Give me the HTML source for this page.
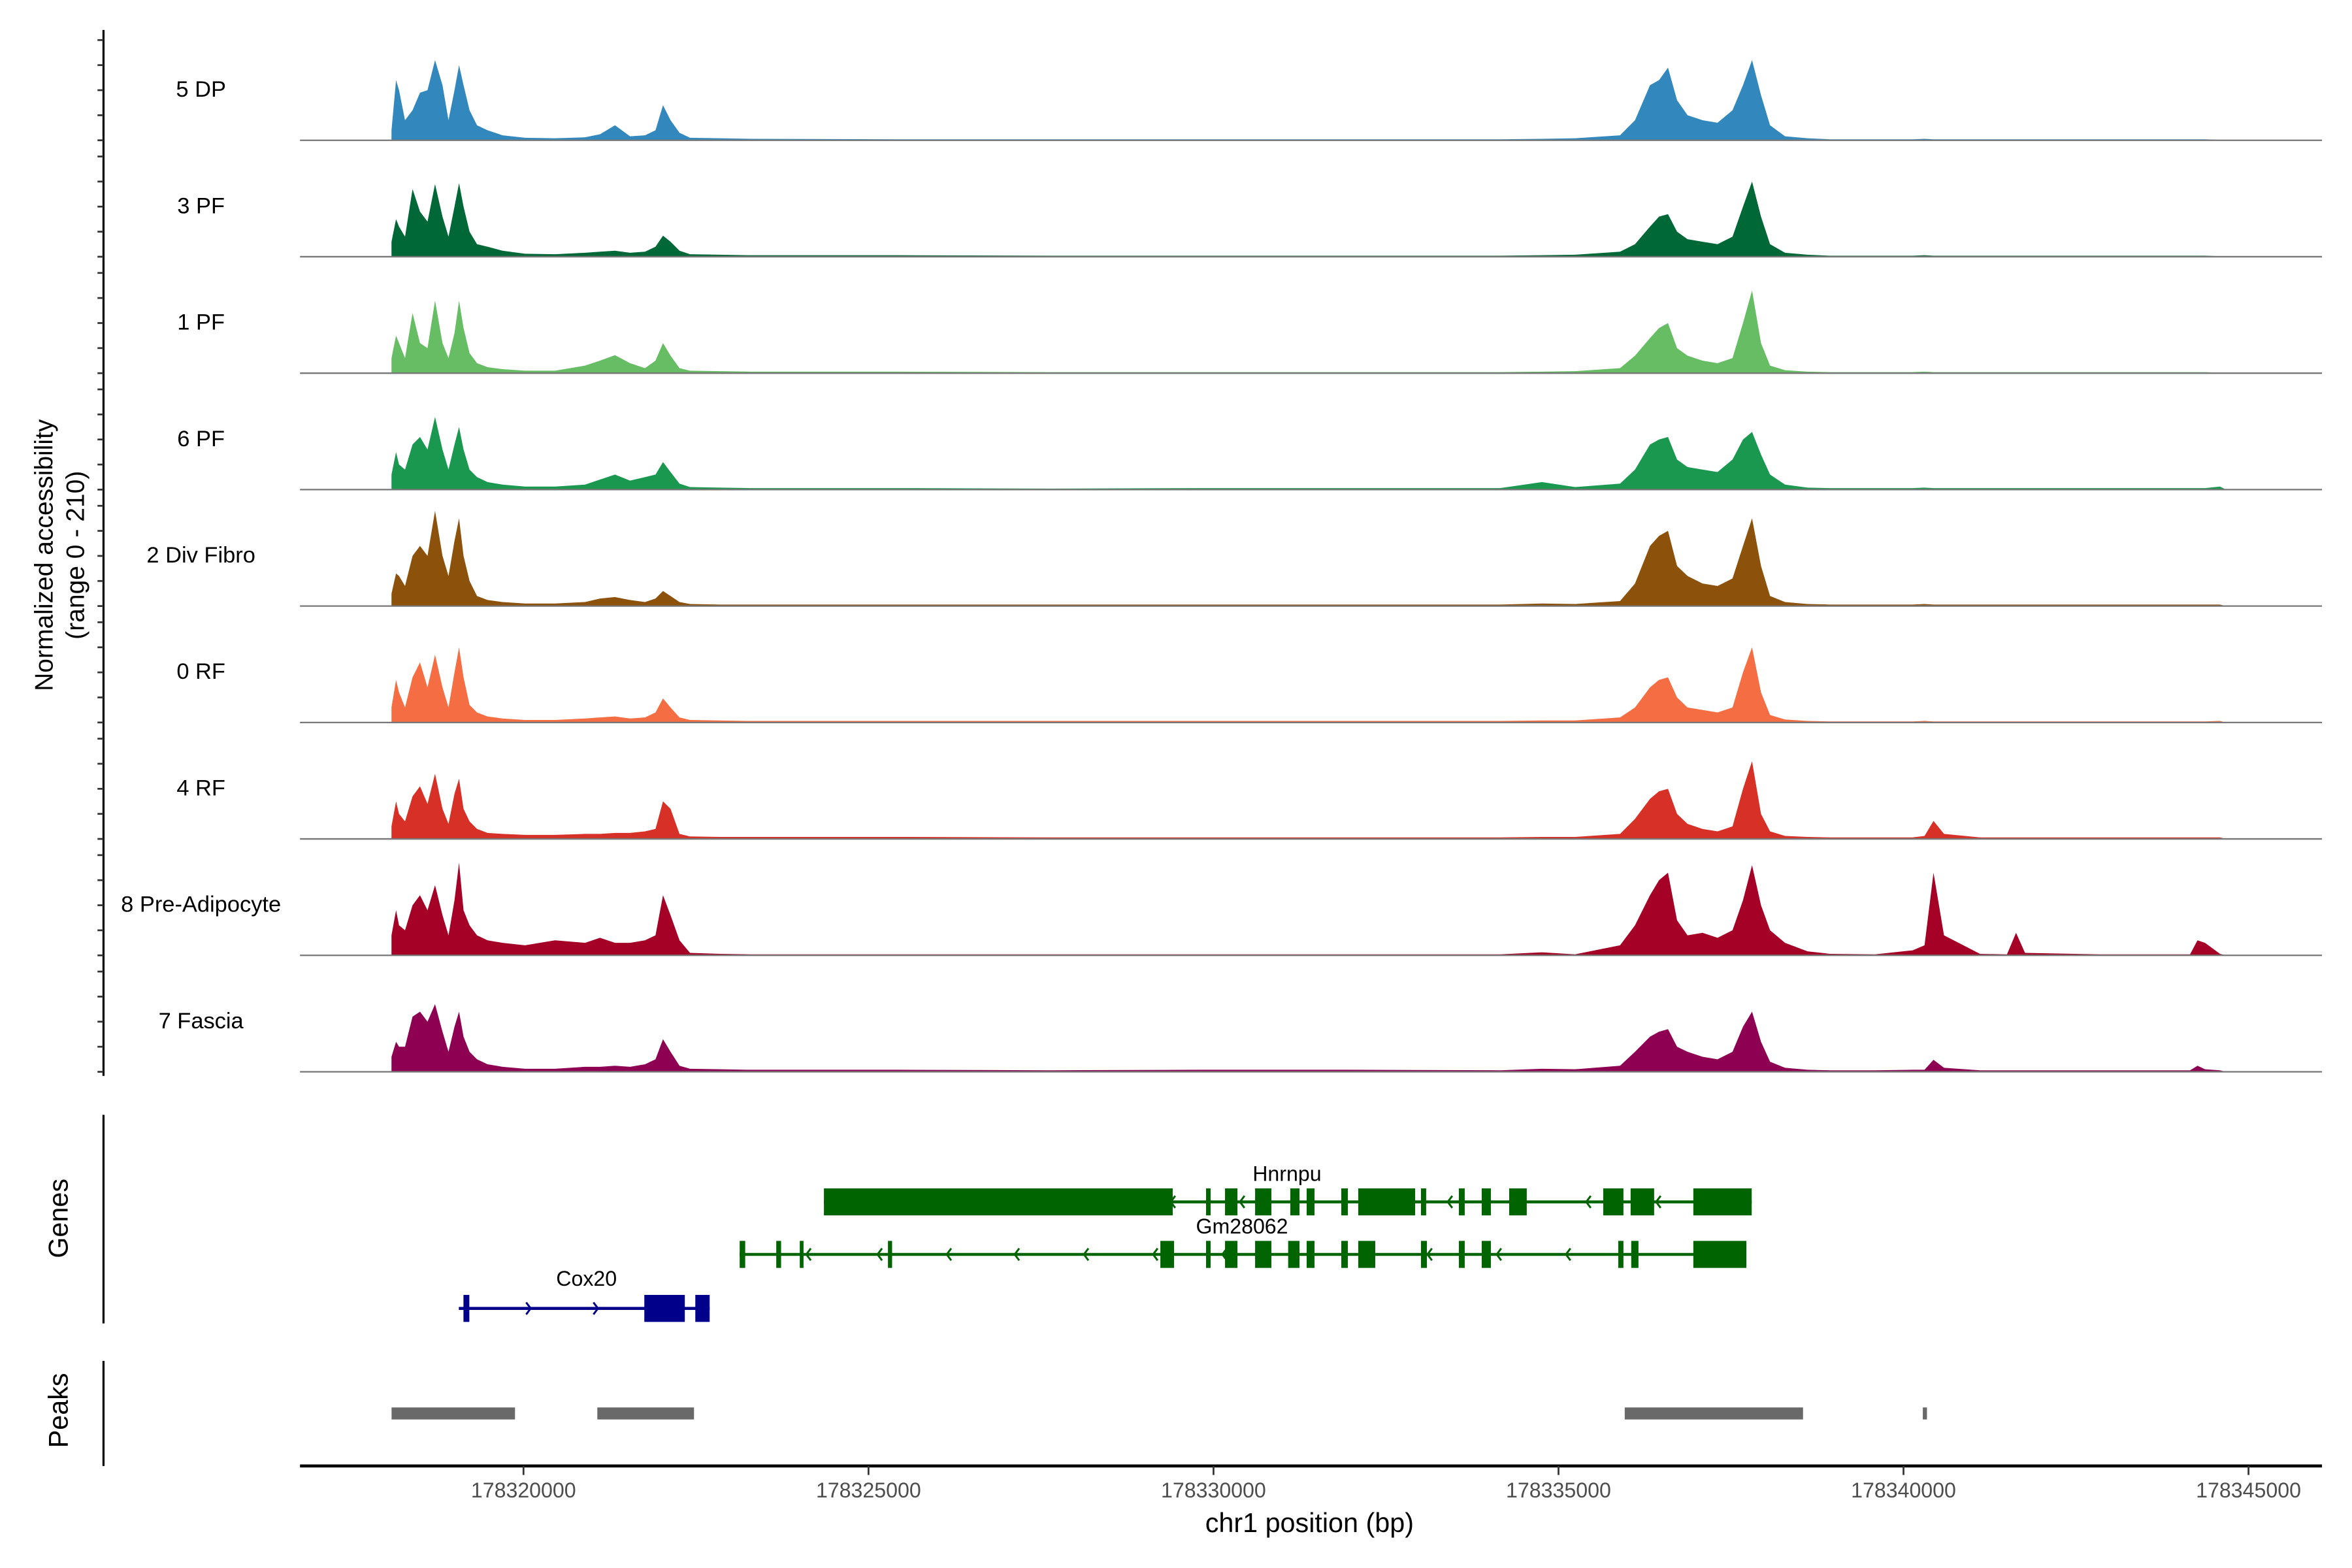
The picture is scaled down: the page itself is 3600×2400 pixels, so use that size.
<!DOCTYPE html>
<html><head><meta charset="utf-8"><style>
html,body{margin:0;padding:0;background:#fff;}
svg{display:block;font-family:"Liberation Sans",sans-serif;}
</style></head><body>
<svg id="chart" width="3600" height="2400" viewBox="0 0 1568 1045" preserveAspectRatio="none" xmlns="http://www.w3.org/2000/svg"></svg>
<script>
const positions=[178318087,178318153,178318196,178318283,178318392,178318500,178318609,178318718,178318826,178318913,
178319000,178319066,178319131,178319218,178319326,178319479,178319696,178320022,178320457,178320892,
178321109,178321326,178321544,178321761,178321913,178322022,178322131,178322261,178322413,178322848,
178323283,178325457,178327631,178329805,178331979,178334153,178334761,178335240,178335892,178336109,
178336326,178336457,178336587,178336718,178336870,178337087,178337305,178337522,178337674,178337805,
178337935,178338066,178338283,178338609,178338935,178339587,178340131,178340305,178340435,178340587,
178341109,178341500,178341631,178341761,178342848,178344153,178344261,178344370,178344587,178344674];
const trackNames=["5 DP","3 PF","1 PF","6 PF","2 Div Fibro","0 RF","4 RF","8 Pre-Adipocyte","7 Fascia"];
const trackColors=["#3288bd","#006837","#66bd63","#1a9850","#8c510a","#f46d43","#d73027","#a50026","#8e0152"];
const vDP5=[20,120,100,40,60,95,100,160,110,40,100,150,110,60,30,20,10,5,4,6,12,30,8,10,20,70,40,15,5,4,3,2,2,2,2,2,3,4,10,40,110,120,145,80,50,40,35,60,110,160,90,30,8,4,2,2,2,3,2,2,2,2,2,2,2,2,2,2,1,0];
const vPF3=[30,75,60,40,135,90,70,145,80,40,100,147,100,50,25,20,12,6,5,8,10,12,8,10,20,42,30,12,5,4,3,3,2,2,2,2,3,4,10,25,60,80,85,50,35,30,25,40,100,150,80,25,8,4,2,2,2,3,2,2,2,2,2,2,2,2,2,2,1,0];
const vPF1=[30,75,60,30,120,60,50,145,60,30,80,145,90,40,20,12,8,5,5,15,25,36,20,10,25,60,35,10,5,4,3,3,2,2,2,2,3,4,10,35,70,90,100,50,35,25,20,30,100,165,60,15,6,3,2,2,2,3,2,2,2,2,2,2,2,2,2,2,1,0];
const vPF6=[30,75,50,40,90,105,80,145,80,40,90,125,80,40,25,15,10,6,6,10,20,30,18,25,30,55,35,12,5,4,3,3,2,3,3,3,15,5,12,40,90,100,105,60,45,40,35,60,100,115,70,30,10,4,3,3,3,4,3,3,3,3,3,3,3,3,3,3,6,0];
const vDiv2=[25,65,60,40,100,120,100,190,100,60,130,175,100,50,20,12,8,5,5,8,15,18,12,8,15,30,20,8,4,3,3,3,3,3,3,3,5,4,10,45,120,140,150,80,60,45,40,55,120,175,80,20,8,4,3,3,3,4,3,3,3,3,3,3,3,3,3,3,3,0];
const vRF0=[30,85,60,30,90,120,70,135,70,30,100,150,90,35,20,12,8,5,5,8,10,12,8,10,20,48,30,10,5,4,3,3,3,3,3,3,4,4,10,30,70,85,90,50,30,25,20,30,100,150,60,15,6,3,2,2,2,3,2,2,2,2,2,2,2,2,2,2,3,0];
const vRF4=[25,75,50,35,85,105,70,130,60,30,90,120,60,35,20,12,10,8,8,10,10,12,12,15,20,75,60,10,5,4,4,4,3,3,3,3,4,4,10,40,80,95,100,50,30,20,15,25,100,155,50,15,6,4,3,3,3,6,36,10,3,3,3,3,3,3,3,3,3,0];
const vPre8=[40,90,60,50,100,120,90,140,80,40,110,185,90,60,40,30,25,20,30,25,35,25,25,30,40,120,80,30,5,3,2,2,2,2,2,2,6,2,20,60,120,150,165,70,40,45,35,50,110,180,100,50,25,8,3,2,10,20,165,40,3,2,45,5,2,2,30,25,3,0];
const vFas7=[30,60,50,50,110,120,100,135,80,40,90,120,70,40,25,15,10,6,6,10,10,12,10,15,25,65,40,12,6,5,4,4,3,4,4,3,6,5,12,40,70,80,85,50,40,30,25,40,90,120,60,20,8,4,3,3,4,4,24,8,3,3,3,3,3,3,12,5,3,0];
const trackValues=[vDP5,vPF3,vPF1,vPF6,vDiv2,vRF0,vRF4,vPre8,vFas7];
const xTicks=[178320000,178325000,178330000,178335000,178340000,178345000];
const peaksStart=[178318088,178321070,178335960,178340280];
const peaksEnd=[178319877,178322471,178338544,178340340];
const hnrnpuExonStart=[178324354,178329892,178330167,178330603,178331113,178331350,178331852,178332098,178333007,178333556,178333887,178334285,178335648,178336045,178336954];
const hnrnpuExonEnd=[178329409,178329958,178330347,178330839,178331246,178331464,178331947,178332922,178333082,178333641,178334020,178334540,178335941,178336386,178337800];
const hnrnpuArrows=[178329380,178330384,178333395,178335402,178336415];
const gmExonStart=[178323133,178323663,178324004,178325282,178329230,178329892,178330167,178330603,178331082,178331350,178331852,178332098,178333007,178333556,178333887,178335866,178336054,178336954];
const gmExonEnd=[178323213,178323733,178324054,178325342,178329428,178329958,178330347,178330839,178331246,178331464,178331947,178332344,178333093,178333641,178334020,178335941,178336159,178337723];
const gmArrows=[178324099,178325131,178326134,178327119,178328122,178329125,178330129,178333101,178334105,178335108];
const coxExonStart=[178319130,178321751,178322490];
const coxExonEnd=[178319215,178322338,178322698];
const coxArrows=[178320104,178321079];

const NS="http://www.w3.org/2000/svg";
const svg=document.getElementById('chart');
function mk(tag,attrs,parent){const e=document.createElementNS(NS,tag);for(const k in attrs)e.setAttribute(k,attrs[k]);(parent||svg).appendChild(e);return e;}
function xs(bp){return 349+(bp-178320000)*0.046;}
const trackH=77.6, firstBase=93.5, yPer=0.334;
function ys(v,base){return base-v*yPer;}

let ax=mk('line',{x1:69,y1:20,x2:69,y2:717,stroke:'#000','stroke-width':1.4});


for(let t=0;t<9;t++){const b=firstBase+t*trackH;
 for(let k=0;k<5;k++){const yy=ys(k*50,b);
  let tk=mk('line',{x1:65,y1:yy,x2:69,y2:yy,stroke:'#333','stroke-width':1.2});
  
  }
}
let yl=mk('text',{x:0,y:0,'font-size':17,'text-anchor':'middle',transform:'translate(35,370) rotate(-90)'});


yl.textContent='Normalized accessibility';
let yl2=mk('text',{x:0,y:0,'font-size':17,'text-anchor':'middle',transform:'translate(56,370) rotate(-90)'});


yl2.textContent='(range 0 - 210)';

for(let t=0;t<trackNames.length;t++){
 const b=firstBase+t*trackH, vals=trackValues[t];
 let d='M'+xs(positions[0])+','+b;
 for(let i=0;i<positions.length;i++){d+=' L'+xs(positions[i]).toFixed(2)+','+ys(vals[i],b).toFixed(2);}
 d+=' L'+xs(positions[positions.length-1])+','+b+' Z';
 let p=mk('path',{d:d,fill:trackColors[t]});
 
 
 let bl=mk('line',{x1:200,y1:b,x2:1548,y2:b,stroke:'#777','stroke-width':1});
 
 
 let lb=mk('text',{x:134,y:b-29,'font-size':15,'text-anchor':'middle'});
 
 
 lb.textContent=trackNames[t];
}

let ga=mk('line',{x1:69,y1:743,x2:69,y2:882,stroke:'#000','stroke-width':1.4});


let gt=mk('text',{x:0,y:0,'font-size':18,'text-anchor':'middle',transform:'translate(45,812) rotate(-90)'});


gt.textContent='Genes';
function gene(name,col,y,s,e,es,ee,arrows,dir,lx,ly){
 let g=mk('g',{});
 
 
 mk('line',{x1:xs(s),y1:y,x2:xs(e),y2:y,stroke:col,'stroke-width':2},g);
 for(let i=0;i<es.length;i++){const w=Math.max(xs(ee[i])-xs(es[i]),2.5);
  mk('rect',{x:xs(es[i]),y:y-9,width:w,height:18,fill:col},g);}
 for(const a of arrows){const x=xs(a);
  mk('polyline',{points:(x+dir*3)+','+(y-4)+' '+x+','+y+' '+(x+dir*3)+','+(y+4),fill:'none',stroke:col,'stroke-width':1.3},g);}
 let tx=mk('text',{x:lx,y:ly,'font-size':14,'text-anchor':'middle'},g);
 tx.textContent=name;
}
gene('Hnrnpu','#006400',801,178324354,178337800,hnrnpuExonStart,hnrnpuExonEnd,hnrnpuArrows,1,858,787);
gene('Gm28062','#006400',836,178323133,178337723,gmExonStart,gmExonEnd,gmArrows,1,828,822);
gene('Cox20','#00008b',872,178319063,178322698,coxExonStart,coxExonEnd,coxArrows,-1,391,857);

let pa=mk('line',{x1:69,y1:907,x2:69,y2:977,stroke:'#000','stroke-width':1.4});


let pt=mk('text',{x:0,y:0,'font-size':18,'text-anchor':'middle',transform:'translate(45,940) rotate(-90)'});


pt.textContent='Peaks';
for(let i=0;i<peaksStart.length;i++){
 let r=mk('rect',{x:xs(peaksStart[i]),y:938,width:Math.max(xs(peaksEnd[i])-xs(peaksStart[i]),2.5),height:8,fill:'#696969'});
 
 
}

let xa=mk('line',{x1:200,y1:977,x2:1548,y2:977,stroke:'#000','stroke-width':2});


for(const t of xTicks){const x=xs(t);
 let tk=mk('line',{x1:x,y1:977,x2:x,y2:983,stroke:'#333','stroke-width':1.2});
 
 
 let tl=mk('text',{x:x,y:998,'font-size':14,'text-anchor':'middle',fill:'#4d4d4d'});
 
 
 tl.textContent=String(t);
}
let xt=mk('text',{x:873,y:1021,'font-size':18,'text-anchor':'middle'});


xt.textContent='chr1 position (bp)';
</script>
</body></html>
